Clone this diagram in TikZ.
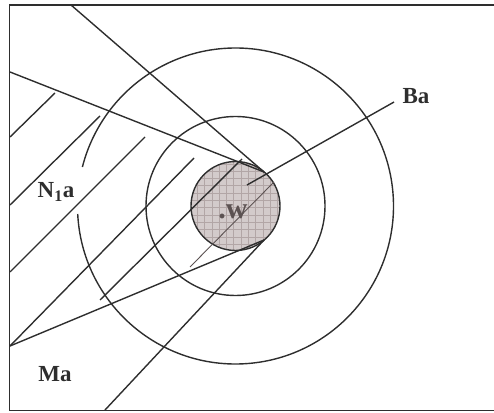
\documentclass[tikz,border=0pt]{standalone}
\usepackage{fontspec}
\setmainfont{Liberation Serif}
\usepackage{tikz}
\usepackage{xcolor}
\definecolor{inkline}{HTML}{2E2E2E}
\definecolor{cellfill}{HTML}{D3CBCB}
\definecolor{cellgrid}{HTML}{B2A6A6}
\definecolor{wgrey}{HTML}{5C5252}

\begin{document}
\begin{tikzpicture}[
    x=1pt, y=1pt,
    every node/.style={font=\fontsize{23}{26}\selectfont\bfseries, text=inkline},
    rule/.style={draw=inkline, line width=1.4pt},
    thinrule/.style={draw=wgrey, line width=0.9pt},
    ring/.style={draw=inkline, line width=1.4pt}
]
\clip (0,0) rectangle (494,412);
\draw[draw=inkline, line width=1.5pt] (9.5,1.5) rectangle (520,407);

% centre of the rings
\coordinate (c) at (235.5,206);

% shaded core with grid
\begin{scope}
  \clip (c) circle (44.5);
  \fill[cellfill] (c) circle (44.5);
  \draw[cellgrid, line width=0.4pt, step=7.3] (185,155) grid (290,260);
\end{scope}
\draw[ring] (c) circle (44.5);
\draw[ring] (c) circle (89.5);
\draw[ring] (c) ++(-177.1:158) arc[start angle=-177.1, end angle=165.7, radius=158];

% meeting points on the core
\coordinate (tu) at (264,240);
\coordinate (td) at (264,172);
\coordinate (topleft) at (71,407);
\coordinate (leftup) at (10,340);
\coordinate (leftdown) at (10,66);
\coordinate (botleft) at (105,2);

\draw[rule] (topleft) -- (tu);
\draw[rule] (leftup) -- (tu);
\draw[rule] (leftdown) -- (td);
\draw[rule] (botleft) -- (td);

% hatch strokes
\coordinate (h1a) at (10,275);  \coordinate (h1b) at (55,319);
\coordinate (h2a) at (10,207);  \coordinate (h2b) at (100,296);
\coordinate (h3a) at (10,140);  \coordinate (h3b) at (145,275);
\coordinate (h4b) at (194,254);
\coordinate (h5a) at (100,112); \coordinate (h5b) at (242,253);
\coordinate (h6a) at (190,145); \coordinate (h6b) at (274,230);
\draw[rule] (h1a) -- (h1b);
\draw[rule] (h2a) -- (h2b);
\draw[rule] (h3a) -- (h3b);
\draw[rule] (leftdown) -- (h4b);
\draw[rule] (h5a) -- (h5b);
\draw[thinrule] (h6a) -- (h6b);

% labels
\node (ba) at (416,316) {Ba};
\node (n1a) at (56,220) {N\textsubscript{1}a};
\node (ma) at (55,38) {Ma};
\node[font=\fontsize{30}{32}\selectfont\bfseries, text=wgrey] (w) at (233,200) {.w};
\coordinate (bastart) at (247,227);
\draw[rule] (bastart) -- ([xshift=-5pt,yshift=-6pt]ba.west);
\end{tikzpicture}
\end{document}
